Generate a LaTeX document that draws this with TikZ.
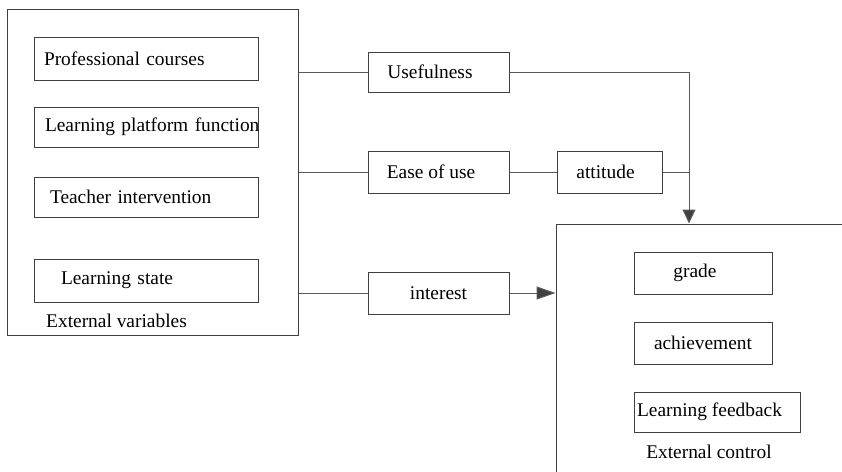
\documentclass[tikz,border=0pt]{standalone}
\usepackage{fontspec}
\setmainfont{Liberation Serif}
\usetikzlibrary{arrows.meta}
\definecolor{boxgray}{HTML}{404040}
\definecolor{linegray}{HTML}{5A5A5A}
\tikzset{
  box/.style={draw=boxgray, line width=1pt, inner sep=0pt, minimum height=42pt},
  lbox/.style={box, minimum width=224pt, text width=204pt, inner xsep=10pt, align=left},
  conn/.style={draw=linegray, line width=1pt},
  arr/.style={conn, -{Triangle[length=#1,width=13pt,fill=boxgray]}},
  arr/.default=15pt
}
\begin{document}
\begin{tikzpicture}[x=1pt,y=-1pt,font=\fontsize{19.4}{22}\selectfont]
	\useasboundingbox (0,0) rectangle (842,471);
	\clip (0,0) rectangle (842,471);
	% external variables
	\node [box, minimum width=291pt, minimum height=326pt] (outer) at (152.5,172) {};
	\node [lbox, minimum height=43pt] (pc) at (146,58.5) {Professional courses};
	\node [lbox, minimum height=40pt] (lp) at (146,127) {\hspace*{1pt}\mbox{Learning platform function}};
	\node [lbox, minimum height=40pt] (ti) at (146,197) {\hspace*{6pt}Teacher intervention};
	\node [lbox, minimum height=43pt] (ls) at (146,280.5) {\hspace*{17pt}Learning state};
	\node [anchor=base west, inner sep=0pt] (extvar) at (46,327) {External variables};
	% middle
	\node [box, minimum width=141pt, minimum height=40pt] (use) at (438.5,72) {\hspace*{-17pt}Usefulness};
	\node [box, minimum width=141pt] (ease) at (438.5,172) {\hspace*{-15pt}Ease of use};
	\node [box, minimum width=105pt] (att) at (609.5,172) {\hspace*{-8pt}attitude};
	\node [box, minimum width=141pt] (int) at (438.5,293) {interest};
	% external control
	\node [box, minimum width=344pt, minimum height=296pt] (ctrl) at (728,372) {};
	\node [box, minimum width=138pt] (grade) at (703,273) {\hspace*{-16pt}grade};
	\node [box, minimum width=138pt] (ach) at (703,343) {achievement};
	\node [box, minimum width=166pt, minimum height=40pt] (fb) at (717,412) {\hspace*{-15pt}Learning feedback};
	\node [anchor=base, inner sep=0pt] (extctrl) at (709,458) {External control};
	\coordinate (drop) at (689,72);
	% connectors
	\draw [conn] (use.west -| outer.east) -- (use.west);
	\draw [conn] (ease.west -| outer.east) -- (ease.west);
	\draw [conn] (int.west -| outer.east) -- (int.west);
	\draw [conn] (ease.east) -- (att.west);
	\draw [conn] (att.east) -- (att.east -| drop);
	\draw [arr=14pt] (use.east) -| (drop |- ctrl.north);
	\draw [arr=19pt] (int.east) -- (int.east -| ctrl.west);
\end{tikzpicture}
\end{document}
